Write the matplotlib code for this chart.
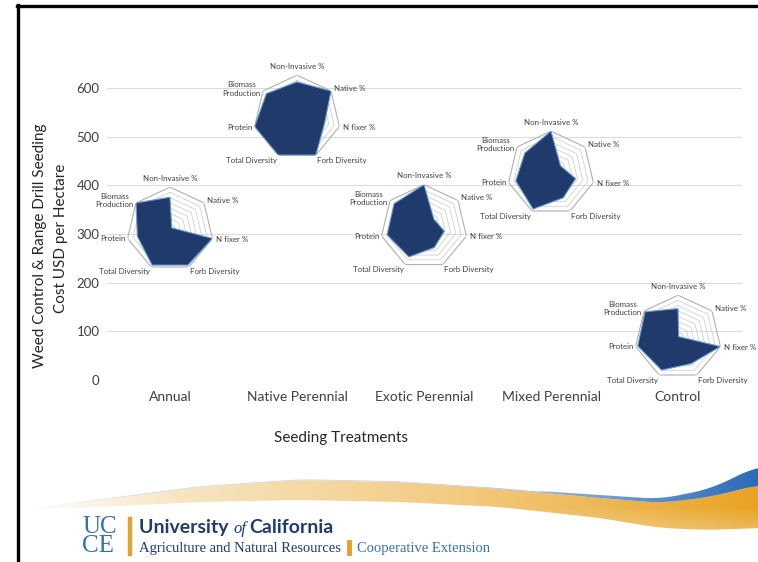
import numpy as np
import matplotlib
matplotlib.use('Agg')
import matplotlib.pyplot as plt
from matplotlib.patches import Polygon
from matplotlib.lines import Line2D

# ---------------- data ----------------
categories = ['Annual', 'Native Perennial', 'Exotic Perennial', 'Mixed Perennial', 'Control']
costs = [310, 540, 315, 425, 88]
yticks = [0, 100, 200, 300, 400, 500, 600]
radar_labels = ['Non-Invasive %', 'Native %', 'N fixer %', 'Forb Diversity',
                'Total Diversity', 'Protein', 'Biomass\nProduction']
annual = [0.76, 0.05, 1.00, 0.95, 0.95, 0.77, 1.00]
native_perennial = [0.84, 1.00, 0.65, 1.00, 1.00, 1.00, 0.90]
exotic_perennial = [1.00, 0.29, 0.48, 0.55, 0.80, 0.87, 0.88]
mixed_perennial = [1.00, 0.28, 0.58, 0.65, 0.95, 0.83, 0.77]
control = [0.68, 0.02, 1.00, 0.70, 0.87, 0.95, 0.97]
radar_values = [annual, native_perennial, exotic_perennial, mixed_perennial, control]

FONT = ['Lato', 'DejaVu Sans']
plt.rcParams['font.family'] = FONT

W, H = 758, 562
fig = plt.figure(figsize=(W / 100, H / 100), dpi=100)
fig.patch.set_facecolor('white')

# ---------------- background decorations ----------------
bg = fig.add_axes([0, 0, 1, 1], zorder=0)
bg.set_xlim(0, W)
bg.set_ylim(H, 0)
bg.axis('off')

# frame lines
bg.add_line(Line2D([18, 18], [5, H], color='black', lw=2.4))
bg.add_line(Line2D([17, W], [6, 6], color='black', lw=2.4))


def curve(pts, xs, k=31):
    px, py = zip(*pts)
    y = np.interp(xs, px, py)
    ypad = np.pad(y, k // 2, mode='edge')
    return np.convolve(ypad, np.ones(k) / k, mode='valid')


xs = np.linspace(32, W, 600)
gold_top = curve([(32, 509), (100, 500), (200, 487), (300, 480), (400, 482), (500, 489),
                  (600, 498), (660, 503), (710, 497), (758, 485)], xs)
gold_bot = curve([(32, 510), (100, 507), (200, 502), (300, 500), (400, 502), (500, 507),
                  (600, 518), (660, 528), (710, 530), (758, 528)], xs)
blue_top = curve([(32, 508), (540, 491), (600, 495), (660, 499), (710, 489), (758, 466)], xs)
blue_top = np.minimum(blue_top, gold_top - 0.8)

# gold band with horizontal gradient
gx = np.linspace(0, 1, 400)
c0 = np.array([1.0, 1.0, 1.0])
c1 = np.array([0.97, 0.90, 0.76])
c2 = np.array([0.95, 0.79, 0.50])
c3 = np.array([0.91, 0.64, 0.14])
cols = np.zeros((400, 3))
for i, t in enumerate(gx):
    if t < 0.2:
        cols[i] = c0 + (c1 - c0) * (t / 0.2)
    elif t < 0.6:
        cols[i] = c1 + (c2 - c1) * ((t - 0.2) / 0.4)
    else:
        cols[i] = c2 + (c3 - c2) * ((t - 0.6) / 0.4)
vy = np.linspace(0, 1, 60)
shade = 1 - 0.25 * np.clip((vy - 0.55) / 0.45, 0, 1)
img = np.ones((60, 400, 3))
for j in range(60):
    img[j] = 1 - (1 - cols) * shade[j]
gpoly = Polygon(np.column_stack([np.r_[xs, xs[::-1]], np.r_[gold_top, gold_bot[::-1]]]),
                closed=True, facecolor='none', edgecolor='none')
bg.add_patch(gpoly)
im = bg.imshow(img, extent=[32, W, 531, 478], aspect='auto', interpolation='bilinear', zorder=1)
im.set_clip_path(gpoly)

# blue band
bimg = np.ones((10, 400, 3))
b0 = np.array([0.80, 0.84, 0.90])
b1 = np.array([0.17, 0.42, 0.72])
for i, t in enumerate(gx):
    tt = np.clip((t - 0.55) / 0.45, 0, 1)
    bimg[:, i] = b0 + (b1 - b0) * tt
    if t < 0.15:
        bimg[:, i] = 1 - (1 - b0) * (t / 0.15)
bpoly = Polygon(np.column_stack([np.r_[xs, xs[::-1]], np.r_[blue_top, gold_top[::-1]]]),
                closed=True, facecolor='none', edgecolor='none')
bg.add_patch(bpoly)
bim = bg.imshow(bimg, extent=[32, W, 531, 460], aspect='auto', interpolation='bilinear', zorder=2)
bim.set_clip_path(bpoly)

# logo
navy = '#1f3c6e'
ucblue = '#3570ac'
gold = '#e1a32c'
fig.text(82 / W, 1 - 536.5 / H, 'UC\nCE', family=['Liberation Serif', 'DejaVu Serif'],
         fontsize=18, color=ucblue, va='center', ha='left', linespacing=0.82)
bg.add_line(Line2D([130, 130], [519, 554], color=gold, lw=3.2))
t1 = fig.text(139 / W, 1 - 533 / H, 'University ', family=['Liberation Sans Narrow', 'Lato'],
              fontsize=14, fontweight='bold', color=navy, va='baseline', ha='left')
fig.canvas.draw()
bb = t1.get_window_extent()
t2 = fig.text(bb.x1 / W, 1 - 533 / H, 'of', family=['Liberation Serif', 'DejaVu Serif'],
              fontsize=12, style='italic', color=navy, va='baseline', ha='left')
bb2 = t2.get_window_extent()
fig.text((bb2.x1 + 3) / W, 1 - 533 / H, 'California', family=['Liberation Sans Narrow', 'Lato'],
         fontsize=14, fontweight='bold', color=navy, va='baseline', ha='left')
t4 = fig.text(139 / W, 1 - 552 / H, 'Agriculture and Natural Resources',
              family=['Liberation Serif', 'DejaVu Serif'], fontsize=10.5, color=navy,
              va='baseline', ha='left')
bb4 = t4.get_window_extent()
bg.add_line(Line2D([bb4.x1 + 8, bb4.x1 + 8], [542, 553], color=gold, lw=3.5))
fig.text((bb4.x1 + 16) / W, 1 - 552 / H, 'Cooperative Extension',
         family=['Liberation Serif', 'DejaVu Serif'], fontsize=10.5, color=ucblue,
         va='baseline', ha='left')

# ---------------- main chart ----------------
ax = fig.add_axes([106.5 / W, 182 / H, 635 / W, 292 / H], zorder=3)
ax.set_facecolor('none')
ax.set_xlim(-0.5, len(categories) - 0.5)
ax.set_ylim(0, 600)
ax.set_yticks(yticks)
ax.set_xticks(range(len(categories)))
ax.set_xticklabels(categories, fontsize=10, color='#404040')
ax.tick_params(axis='both', length=0)
ax.tick_params(axis='x', pad=8)
ax.tick_params(axis='y', pad=5, labelsize=9.5, labelcolor='#404040')
for s in ax.spines.values():
    s.set_visible(False)
ax.yaxis.grid(True, color='#dcdcdc', lw=0.8)
ax.set_axisbelow(True)

fig.text(341 / W, 1 - 438 / H, 'Seeding Treatments', fontsize=11, color='#262626',
         ha='center', va='center')
fig.text(40 / W, 1 - 246 / H, 'Weed Control & Range Drill Seeding', fontsize=11,
         color='#262626', rotation=90, ha='center', va='center')
fig.text(61 / W, 1 - 238 / H, 'Cost USD per Hectare', fontsize=11,
         color='#262626', rotation=90, ha='center', va='center')

# ---------------- radar insets ----------------
n = len(radar_labels)
theta = np.linspace(0, 2 * np.pi, n, endpoint=False)
theta_c = np.r_[theta, theta[0]]
px_per_x = 635 / len(categories)
px_per_y = 292 / 600
wx = 87 / px_per_x
hy = 84 / px_per_y
fill_col = '#1f3a6b'
label_specs = [
    (1.13, 'center', 'bottom'),
    (1.10, 'left', 'center'),
    (1.08, 'left', 'center'),
    (1.04, 'left', 'top'),
    (1.04, 'right', 'top'),
    (1.05, 'right', 'center'),
    (1.08, 'right', 'center'),
]
for i, (cost, vals) in enumerate(zip(costs, radar_values)):
    rax = ax.inset_axes([i - wx / 2, cost - hy / 2, wx, hy], transform=ax.transData,
                        projection='polar', zorder=4)
    rax.set_theta_offset(np.pi / 2)
    rax.set_theta_direction(-1)
    rax.set_ylim(0, 1)
    rax.set_aspect('auto')
    rax.set_axis_off()
    rax.patch.set_alpha(0)
    for rr in np.linspace(0.125, 1.0, 8):
        rax.plot(theta_c, [rr] * (n + 1), color='#c8c8c8' if rr < 1 else '#b0b0b0',
                 lw=0.5 if rr < 1 else 0.8, zorder=1)
    v = np.r_[vals, vals[0]]
    rax.fill(theta_c, v, facecolor=fill_col, edgecolor='#6a9bd2', lw=0.8, zorder=3)
    for k, lab in enumerate(radar_labels):
        rr, ha, va = label_specs[k]
        rax.text(theta[k], rr, lab, ha=ha, va=va, fontsize=5.7, color='#404040',
                 multialignment='center', zorder=5)

fig.savefig('out.png', dpi=100, facecolor='white')
